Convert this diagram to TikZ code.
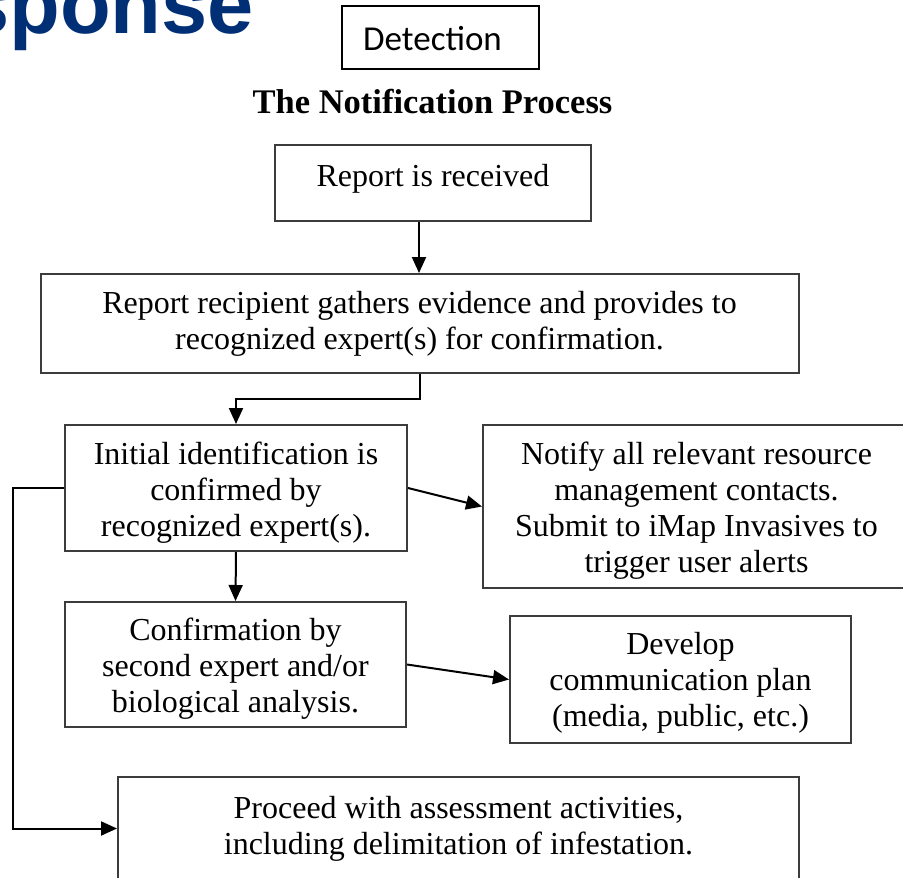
\documentclass[tikz,border=0pt]{standalone}
\usepackage{fontspec}
\usetikzlibrary{arrows.meta}
\newfontfamily\tnr{Liberation Serif}
\newfontfamily\hdsans{Liberation Sans}
\newfontfamily\calib{Carlito}
\newcommand\firststrut{\rule{0pt}{31pt}}
\definecolor{navy}{RGB}{0,47,118}
\definecolor{boxgray}{RGB}{60,60,60}
\tikzset{
  fbox/.style={draw=boxgray, line width=2pt, inner sep=0pt, align=center,
    font=\tnr\fontsize{32}{36}\selectfont},
  conn/.style={draw=black, line width=2pt, -{Triangle[length=16pt,width=14pt]}},
}
\begin{document}
\begin{tikzpicture}[x=1pt,y=-1pt]
\useasboundingbox (0,0) rectangle (903,878);
\clip (0,0) rectangle (903,878);
% heading fragment
\node[anchor=base east, inner sep=0pt, text=navy,
  font=\hdsans\bfseries\fontsize{83}{90}\selectfont] (head) at (254,33) {sponse};
% detection box
\node[draw=black, line width=1.6pt, minimum width=197pt, minimum height=63pt, inner sep=0pt] (det) at (440.5,37.5) {};
\node[anchor=base west, inner sep=0pt, font=\calib\fontsize{35}{40}\selectfont] (dettext) at (363,50) {Detection};
% title
\node[anchor=base, inner sep=0pt, font=\tnr\bfseries\fontsize{34.5}{40}\selectfont] (title) at (432.5,113) {The Notification Process};
% boxes
\node[fbox, minimum width=316pt, minimum height=76pt, text height=21pt, text depth=14pt] (b1) at (433,183) {Report is received};
\node[fbox, minimum width=758pt, minimum height=99pt] (b2) at (419.5,323.5)
  {Report recipient gathers evidence and provides to\\recognized expert(s) for confirmation.};
\node[fbox, minimum width=342pt, minimum height=126pt] (b3) at (236,488)
  {\firststrut Initial identification is\\confirmed by\\recognized expert(s).};
\node[fbox, minimum width=427pt, minimum height=163pt] (b4) at (696.5,506.5)
  {\firststrut Notify all relevant resource\\management contacts.\\Submit to iMap Invasives to\\trigger user alerts};
\node[fbox, minimum width=341pt, minimum height=125pt] (b5) at (235.5,664.5)
  {\firststrut Confirmation by\\second expert and/or\\biological analysis.};
\node[fbox, minimum width=341pt, minimum height=127pt] (b6) at (680.5,679.5)
  {\rule{0pt}{29pt}Develop\\communication plan\\(media, public, etc.)};
\node[fbox, minimum width=681pt, minimum height=103pt] (b7) at (458.5,828.5)
  {Proceed with assessment activities,\\including delimitation of infestation.};
% connectors
\draw[conn] ([xshift=-14pt]b1.south) -- ([xshift=-14pt]b1.south |- b2.north);
\draw[conn] (b2.south) -- ++(0,25) -| (b3.north);
\draw[conn] (b3.east) -- (b4.west);
\draw[conn] (b3.south) -- (b5.north);
\draw[conn] (b5.east) -- (b6.west);
\coordinate (loop) at (13,488);
\draw[conn] (b3.west) -- (b3.west -| loop) |- (b7.west);
\end{tikzpicture}
\end{document}
